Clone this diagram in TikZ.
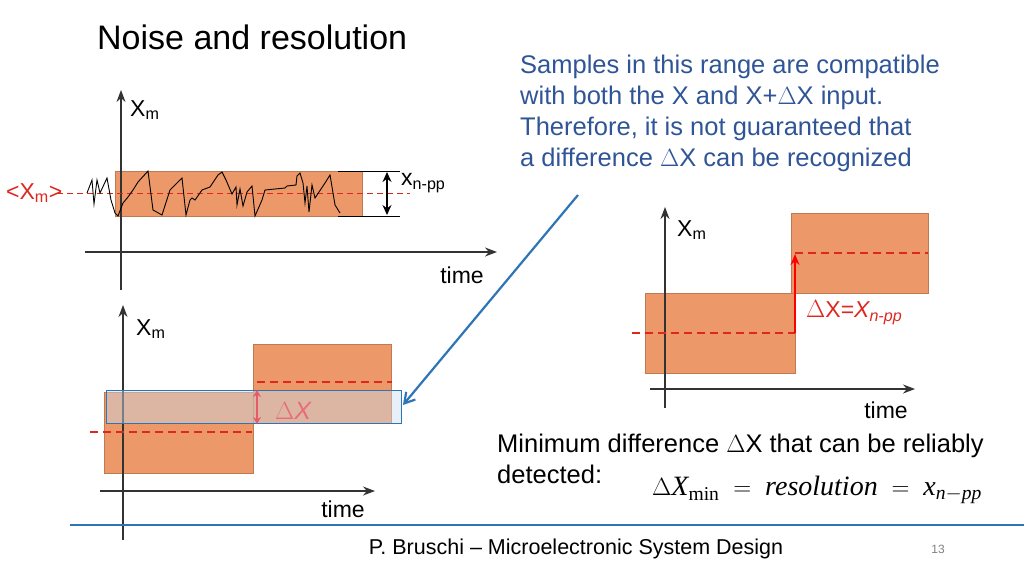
\documentclass[tikz,border=0pt]{standalone}
\usepackage{fontspec}
\setmainfont{Liberation Sans}
\usepackage{amsmath}
\usetikzlibrary{arrows.meta}
\definecolor{bandorange}{RGB}{236,152,104}
\definecolor{txtblue}{RGB}{47,85,151}
\definecolor{arrblue}{RGB}{46,117,182}
\definecolor{meanred}{RGB}{220,40,30}
\definecolor{pinkish}{RGB}{230,90,110}
\newfontfamily\timesfont{Liberation Serif}
\begin{document}
\begin{tikzpicture}[x=1pt,y=-1pt,
  axis/.style={-{Stealth[length=12pt,width=9pt]},line width=1.2pt,black!80},
  band/.style={fill=bandorange,draw=bandorange!80!black,line width=0.3pt},
  meanline/.style={meanred,dashed,line width=2pt,dash pattern=on 8pt off 5pt},
  lbl/.style={inner sep=0pt,font=\fontsize{23}{26}\selectfont}]
  \useasboundingbox (0,0) rectangle (1024,576);
  % title and notes
  \node[anchor=west,inner sep=0pt,font=\fontsize{34}{40}\selectfont] (title) at (97,37) {Noise and resolution};
  \node[anchor=north west,inner sep=0pt,align=left,text=txtblue,font=\fontsize{25.5}{31}\selectfont] (note) at (520,55)
    {Samples in this range are compatible\\with both the X and X+$\Delta$X input.\\Therefore, it is not guaranteed that\\a difference $\Delta$X can be recognized};
  % top plot
  \fill[band] (115,171) rectangle (362,216);
  \draw[axis] (121,290) -- (121,90);
  \draw[axis] (85,252) -- (497,252);
  \draw[meanred,dashed,line width=1pt,dash pattern=on 6pt off 4pt] (57,193) -- (410,193);
  \draw[black,line width=0.9pt] (87,193) -- (92,180) -- (94,204) -- (97,180) -- (100,193) -- (107,178) -- (111,200) -- (115,213)
    -- (118,216) -- (123,203) -- (128,197) -- (133,190) -- (138,182) -- (148,171) -- (153,210) -- (162,215) -- (170,190)
    -- (182,178) -- (186,215) -- (190,200) -- (192,198) -- (195,200) -- (202,190) -- (210,187) -- (218,175) -- (222,172)
    -- (226,180) -- (232,194) -- (236,187) -- (237,205) -- (240,189) -- (243,206) -- (247,192) -- (252,186) -- (255,216)
    -- (262,200) -- (265,190) -- (285,188) -- (287,186) -- (296,185) -- (297,176) -- (300,173) -- (303,183) -- (305,203)
    -- (307,186) -- (309,212) -- (312,185) -- (315,198) -- (325,183) -- (330,175) -- (335,205) -- (340,213);
  \draw[line width=0.9pt] (338,171) -- (400,171) (338,216) -- (400,216);
  \draw[{Stealth[length=10pt,width=9pt]}-{Stealth[length=10pt,width=9pt]},line width=1.2pt] (387,172) -- (387,215);
  \node[lbl,anchor=west] (xnpp) at (401,183) {x\textsubscript{n-pp}};
  \node[lbl,anchor=west,text=meanred] (mean) at (6,193) {<X\textsubscript{m}>};
  \node[lbl,anchor=north west] (ym1) at (130,100) {X\textsubscript{m}};
  \node[lbl,anchor=center] (t1) at (462,275) {time};
  % bottom left plot
  \fill[band] (104,392) rectangle (253,473);
  \fill[band] (253,344) rectangle (391,423);
  \draw[axis] (123,540) -- (123,305);
  \draw[axis] (100,491) -- (375,491);
  \draw[meanline] (90,432) -- (252,432);
  \draw[meanline] (257,382) -- (392,382);
  \draw[arrblue,fill=arrblue!25,fill opacity=0.45,line width=1pt] (106,390) rectangle (401,423);
  \draw[{Stealth[length=7pt,width=8pt]}-{Stealth[length=7pt,width=8pt]},pinkish,line width=1.2pt] (257,390) -- (257,424);
  \node[lbl,text=pinkish!90,font=\itshape\fontsize{25}{26}\selectfont] (dx1) at (293,411) {$\Delta$X};
  \node[lbl,anchor=north west] (ym2) at (136,319) {X\textsubscript{m}};
  \node[lbl,anchor=center] (t2) at (343,509) {time};
  % right plot
  \fill[band] (645,293) rectangle (795,373);
  \fill[band] (791,213) rectangle (928,293);
  \draw[axis] (665,408) -- (665,207);
  \draw[axis] (650,389) -- (915,389);
  \draw[meanline] (632,333) -- (795,333);
  \draw[meanline] (795,253) -- (928,253);
  \draw[-{Stealth[length=11pt,width=9pt]},red,line width=1.4pt] (795,333) -- (795,254);
  \node[lbl,anchor=west,text=meanred] (dx2) at (806,313) {$\Delta$X=\textit{X\textsubscript{n-pp}}};
  \node[lbl,anchor=north west] (ym3) at (677,220) {X\textsubscript{m}};
  \node[lbl,anchor=center] (t3) at (886,410) {time};
  % pointer
  \coordinate (ptail) at (578,195);
  \coordinate (phead) at (403,405);
  \draw[-{Straight Barb[length=10pt,width=12pt]},arrblue,line width=2.2pt] (ptail) -- (phead);
  % bottom text
  \node[anchor=north west,inner sep=0pt,align=left,font=\fontsize{25.5}{31}\selectfont] (minnote) at (497,434)
    {Minimum difference $\Delta$X that can be reliably\\detected:};
  \node[anchor=west,inner sep=0pt,font=\timesfont\itshape\fontsize{28}{30}\selectfont] (formula) at (652,490)
    {$\Delta$X\textsubscript{\upshape min} ${}={}$ resolution ${}={}$ x\textsubscript{n$-$pp}};
  % footer
  \draw[arrblue,line width=2.5pt] (70,525) -- (1024,525);
  \node[inner sep=0pt,font=\fontsize{21.5}{24}\selectfont] (footer) at (576,549) {P. Bruschi -- Microelectronic System Design};
  \node[inner sep=0pt,text=gray,font=\fontsize{12}{13}\selectfont] (page) at (938,549) {13};
\end{tikzpicture}
\end{document}
